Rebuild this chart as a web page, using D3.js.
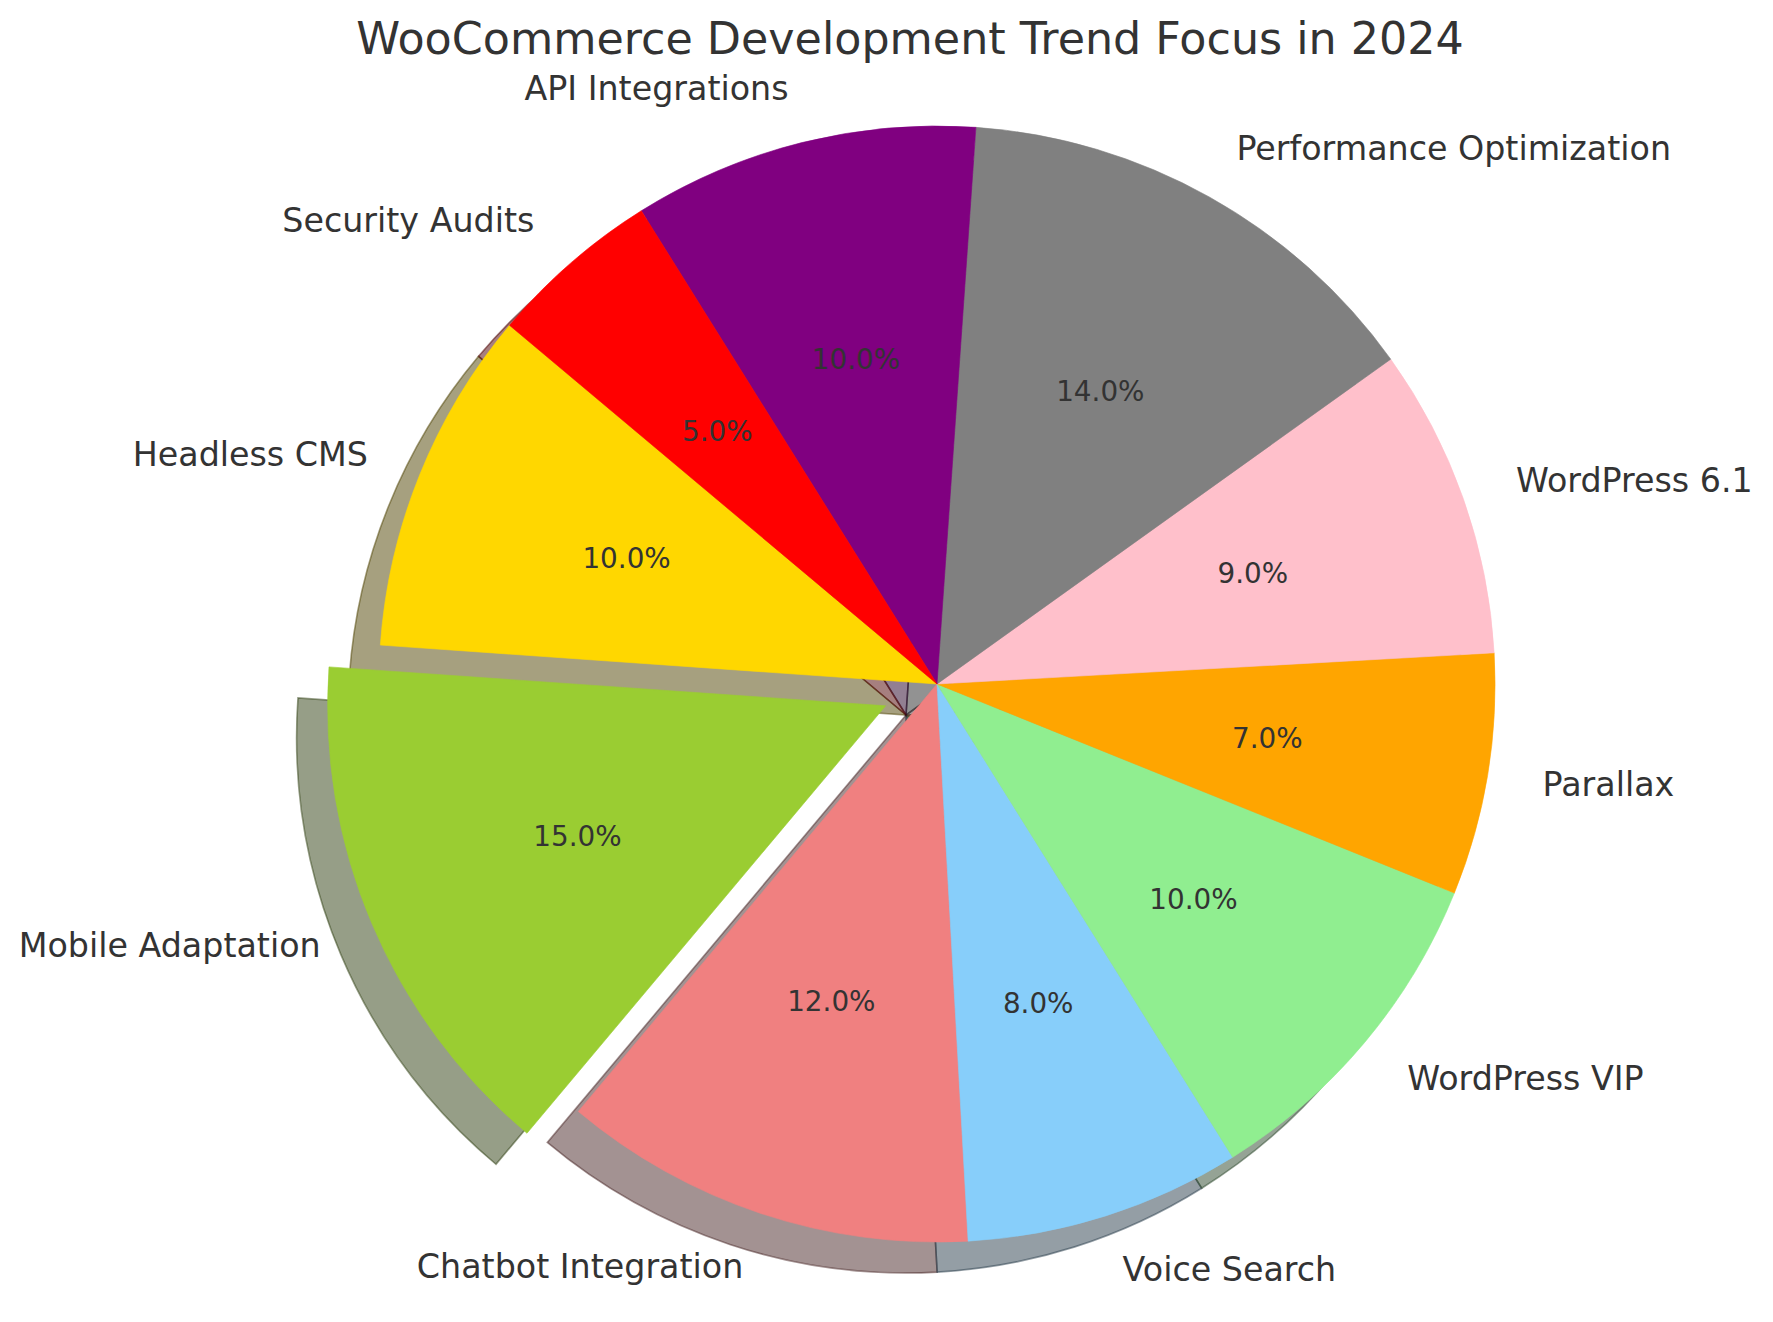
<!DOCTYPE html>
<html>
<head>
<meta charset="utf-8">
<script src="https://cdn.jsdelivr.net/npm/d3@7"></script>
<style>
  body { margin: 0; background: #fff; }
  text { font-family: "DejaVu Sans", sans-serif; fill: #333333; }
</style>
</head>
<body>
<div id="chart"></div>
<script>
// chart data
var labels = ["Headless CMS", "Mobile Adaptation", "Chatbot Integration", "Voice Search",
  "WordPress VIP", "Parallax", "WordPress 6.1", "Performance Optimization",
  "API Integrations", "Security Audits"];
var values = [10, 15, 12, 8, 10, 7, 9, 14, 10, 5];
var colors = ["gold", "yellowgreen", "lightcoral", "lightskyblue", "lightgreen",
  "orange", "pink", "gray", "purple", "red"];
var explode = [0, 0.1, 0, 0, 0, 0, 0, 0, 0, 0];
var title = "WooCommerce Development Trend Focus in 2024";

var width = 1773,
  height = 1322,
  cx = 937,
  cy = 684,
  radius = 558,
  shadowOff = radius * 0.02 * 200 / 72; // matplotlib shadow offset at 200 dpi

var svg = d3.select("#chart")
  .append("svg")
  .attr("width", width)
  .attr("height", height);

svg.append("rect").attr("width", width).attr("height", height).attr("fill", "#fff");

// matplotlib starts at 140deg and goes counterclockwise
var start = (90 - 140) * Math.PI / 180;
var pie = d3.pie()
  .sort(null)
  .value(function(d) { return d; })
  .startAngle(start)
  .endAngle(start - 2 * Math.PI);

var arcs = pie(values);
var total = d3.sum(values);

var arc = d3.arc().innerRadius(0).outerRadius(radius);

function mid(d) { return (d.startAngle + d.endAngle) / 2; }
function offset(d, i) {
  var m = mid(d), r = explode[i] * radius;
  return [r * Math.sin(m), -r * Math.cos(m)];
}
function shade(i) {
  var c = d3.rgb(colors[i]);
  return d3.rgb(c.r * 0.3, c.g * 0.3, c.b * 0.3).toString();
}

var g = svg.append("g").attr("transform", "translate(" + cx + "," + cy + ")");

// shadows under every wedge
g.append("g")
  .selectAll("path")
  .data(arcs)
  .enter()
  .append("path")
  .attr("d", arc)
  .attr("transform", function(d, i) {
    var o = offset(d, i);
    return "translate(" + (o[0] - shadowOff) + "," + (o[1] + shadowOff) + ")";
  })
  .attr("fill", function(d, i) { return shade(i); })
  .attr("fill-opacity", 0.5)
  .attr("stroke", function(d, i) { return shade(i); })
  .attr("stroke-opacity", 0.5)
  .attr("stroke-width", 1.6);

// wedges
g.append("g")
  .selectAll("path")
  .data(arcs)
  .enter()
  .append("path")
  .attr("d", arc)
  .attr("transform", function(d, i) {
    var o = offset(d, i);
    return "translate(" + o[0] + "," + o[1] + ")";
  })
  .attr("fill", function(d, i) { return colors[i]; })
  .attr("stroke", function(d, i) { return colors[i]; })
  .attr("stroke-width", 0.6);

// percentage labels
g.append("g")
  .selectAll("text")
  .data(arcs)
  .enter()
  .append("text")
  .attr("x", function(d, i) { return offset(d, i)[0] + 0.6 * radius * Math.sin(mid(d)); })
  .attr("y", function(d, i) { return offset(d, i)[1] - 0.6 * radius * Math.cos(mid(d)); })
  .attr("dy", "0.35em")
  .attr("font-size", "27.8px")
  .style("text-anchor", "middle")
  .text(function(d) { return d3.format(".1f")(d.data / total * 100) + "%"; });

// category labels
g.append("g")
  .selectAll("text")
  .data(arcs)
  .enter()
  .append("text")
  .attr("x", function(d, i) { return offset(d, i)[0] + 1.1 * radius * Math.sin(mid(d)); })
  .attr("y", function(d, i) { return offset(d, i)[1] - 1.1 * radius * Math.cos(mid(d)); })
  .attr("dy", "0.35em")
  .attr("font-size", "33.3px")
  .style("text-anchor", function(d, i) {
    return offset(d, i)[0] + 1.1 * radius * Math.sin(mid(d)) > 0 ? "start" : "end";
  })
  .text(function(d, i) { return labels[i]; });

svg.append("text")
  .attr("x", 910)
  .attr("y", 54)
  .attr("font-size", "44.4px")
  .style("text-anchor", "middle")
  .text(title);
</script>
</body>
</html>
